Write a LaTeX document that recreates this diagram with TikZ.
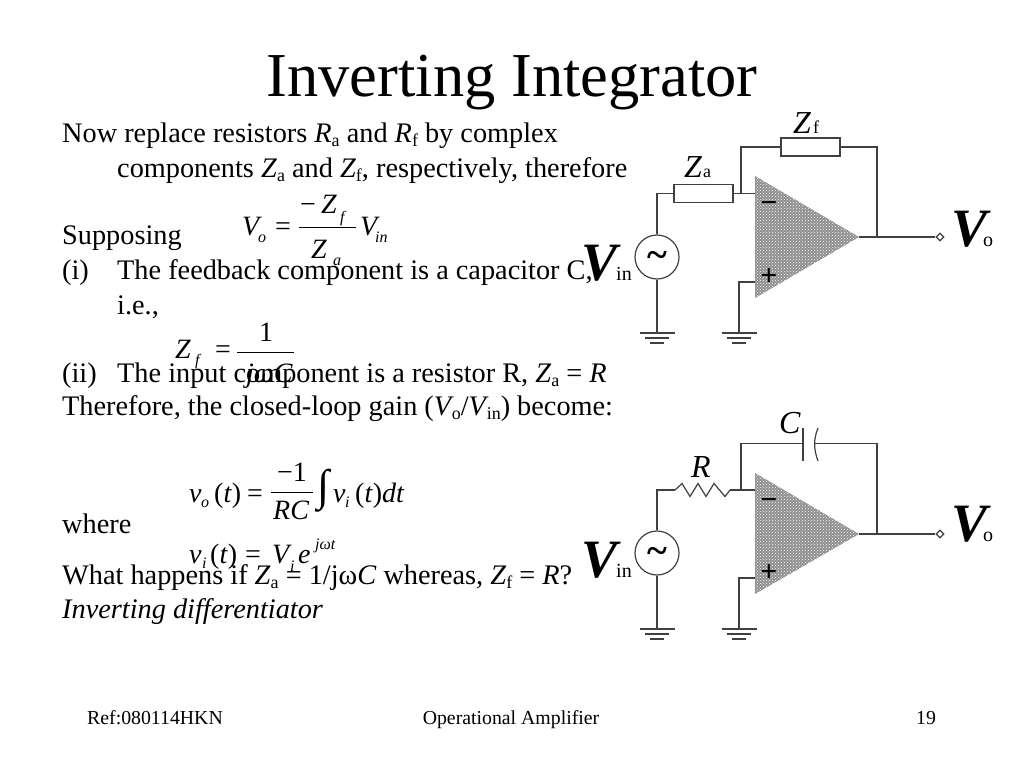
\documentclass[tikz,border=0pt]{standalone}
\usepackage{fontspec}
\usetikzlibrary{patterns,shapes.geometric}
\setmainfont{Liberation Serif}
\newcommand{\fs}[1]{\fontsize{#1}{#1}\selectfont}
\newcommand{\subr}[1]{\raisebox{-4pt}{\fs{18}#1}}
\tikzset{
  x=1pt,y=-1pt,
  wire/.style={line width=1.2pt,draw=black!75},
  bodytext/.style={anchor=base west,inner sep=0pt,font=\fs{28.3}},
  foot/.style={anchor=base,inner sep=0pt,font=\fs{19.8}},
  eq/.style={anchor=base west,inner sep=0pt,font=\fs{28}\itshape},
  eqr/.style={anchor=base west,inner sep=0pt,font=\fs{28}},
  eqs/.style={anchor=base west,inner sep=0pt,font=\fs{16}\itshape},
  bigv/.style={anchor=base west,inner sep=0pt,font=\fs{54}\bfseries\itshape},
  vsub/.style={anchor=base west,inner sep=0pt,font=\fs{20}},
  lbl/.style={anchor=base west,inner sep=0pt,font=\fs{32}\itshape},
  lbls/.style={anchor=base west,inner sep=0pt,font=\fs{18}},
  sign/.style={anchor=center,inner sep=0pt,font=\fs{30}\bfseries},
  imp/.style={wire,rectangle,fill=white,minimum width=59pt,minimum height=18pt,inner sep=0pt},
  src/.style={wire,circle,fill=white,minimum size=44pt,inner sep=0pt,font=\fs{38}\bfseries},
  term/.style={wire,diamond,draw,fill=white,minimum size=8pt,inner sep=0pt},
  bar/.style={line width=1.2pt,draw=black!75}
}
\newcommand{\gnd}[1]{%
  \draw[bar] ([xshift=-17.5pt]#1) -- ([xshift=17.5pt]#1);
  \draw[bar] ([xshift=-12pt,yshift=-5pt]#1) -- ([xshift=12pt,yshift=-5pt]#1);
  \draw[bar,line width=1.6pt] ([xshift=-7pt,yshift=-10pt]#1) -- ([xshift=7pt,yshift=-10pt]#1);}
\newcommand{\opamp}[3]{%
  \fill[gray!88] #1 -- #2 -- #3 -- cycle;
  \fill[pattern=crosshatch dots,pattern color=white] #1 -- #2 -- #3 -- cycle;}
\begin{document}
\begin{tikzpicture}
\useasboundingbox (0,0) rectangle (1024,768);
\fill[white] (0,0) rectangle (1024,768);

% title
\node[anchor=base,inner sep=0pt,font=\fs{62.5}] (title) at (512,96) {Inverting Integrator};

% body
\node[bodytext] (l1) at (62,142) {Now replace resistors \textit{R}\subr{a} and \textit{R}\subr{f} by complex};
\node[bodytext] (l2) at (117,177) {components \textit{Z}\subr{a} and \textit{Z}\subr{f}, respectively, therefore};
\node[bodytext] (l3) at (62,244) {Supposing};
\node[bodytext] (l4a) at (62,279) {(i)};
\node[bodytext] (l4) at (117,279) {The feedback component is a capacitor C,};
\node[bodytext] (l5) at (117,314) {i.e.,};
\node[bodytext] (l6a) at (62,382) {(ii)};
\node[bodytext] (l6) at (117,382) {The input component is a resistor R, \textit{Z}\subr{a} = \textit{R}};
\node[bodytext] (l7) at (62,415) {Therefore, the closed-loop gain (\textit{V}\kern-2pt\subr{o}/\textit{V}\kern-2pt\subr{in}) become:};
\node[bodytext] (l8) at (62,533) {where};
\node[bodytext] (l9) at (62,584) {What happens if \textit{Z}\subr{a} = 1/jω\textit{C} whereas, \textit{Z}\subr{f} = \textit{R}?};
\node[bodytext,font=\fs{28.3}\itshape] (l10) at (62,618) {Inverting differentiator};

% footer
\node[foot] (f1) at (155,724) {Ref:080114HKN};
\node[foot] (f2) at (511,724) {Operational Amplifier};
\node[foot] (f3) at (926,724) {19};

% eq 1
\node[eq] (e1a) at (242,235) {V};
\node[eqs] (e1b) at (258,242) {o};
\node[eqr] (e1c) at (275,235) {=};
\node[eqr] (e1d) at (300,213) {−};
\node[eq] (e1e) at (321,213) {Z};
\node[eqs] (e1f) at (340,222) {f};
\node[eq] (e1g) at (311,258) {Z};
\node[eqs] (e1h) at (333,265) {a};
\node[eq] (e1i) at (360,235) {V};
\node[eqs] (e1j) at (375,242) {in};
\coordinate (e1l) at (299,227); \coordinate (e1r) at (356,227);
\draw[line width=1pt] (e1l) -- (e1r);

% eq 2
\node[eq] (e2a) at (175,358) {Z};
\node[eqs] (e2b) at (195,365) {f};
\node[eqr] (e2c) at (215,358) {=};
\node[eqr] (e2d) at (259,341) {1};
\node[eq] (e2e) at (246,382) {jωC};
\coordinate (e2l) at (237,352); \coordinate (e2r) at (294,352);
\draw[line width=1pt] (e2l) -- (e2r);

% eq 3
\node[eq] (e3a) at (189,502) {v};
\node[eqs] (e3b) at (201,507) {o};
\node[eqr] (e3c) at (214,502) {(\textit{t})};
\node[eqr] (e3d) at (247,502) {=};
\node[eqr] (e3e) at (277,481) {−1};
\node[eq] (e3f) at (273,519) {RC};
\node[anchor=center,inner sep=0pt,font=\fs{44}] (e3g) at (324,491) {∫};
\node[eq] (e3h) at (333,502) {v};
\node[eqs] (e3i) at (345,507) {i};
\node[eqr] (e3j) at (355,502) {(\textit{t})\textit{dt}};
\coordinate (e3l) at (271,492); \coordinate (e3r) at (313,492);
\draw[line width=1pt] (e3l) -- (e3r);

% eq 4
\node[eq] (e4a) at (189,563) {v};
\node[eqs] (e4b) at (202,568) {i};
\node[eqr] (e4c) at (210,563) {(\textit{t})};
\node[eqr] (e4d) at (245,563) {=};
\node[eq] (e4e) at (272,563) {V};
\node[eqs] (e4f) at (290,571) {i};
\node[eq] (e4g) at (298,563) {e};
\node[eqs] (e4h) at (315,549) {jωt};

% ---------- top circuit ----------
\opamp{(755,176)}{(859,237)}{(755,298)}
\node[sign] (am) at (769,207) {−};
\node[sign] (ap) at (769,277) {+};
\coordinate (ainm) at (755,193.5);
\coordinate (ainp) at (755,282);
\coordinate (aout) at (859,237);
\coordinate (fbl) at (741,193.5);
\coordinate (fbr) at (877,237);
\coordinate (g1) at (657,333);
\coordinate (g2) at (739,333);
\node[src] (vs) at (657,257) {\raisebox{-10pt}[0pt][0pt]{\char"7E}};
\node[imp] (za) at (703.5,193.5) {};
\node[imp] (zf) at (810.5,147) {};
\node[term] (vo) at (940,237) {};
\draw[wire] (vs.north) |- (za.west);
\draw[wire] (za.east) -- (ainm);
\draw[wire] (fbl) |- (zf.west);
\draw[wire] (zf.east) -| (fbr);
\draw[wire] (aout) -- (vo.west);
\draw[wire] (vs.south) -- (g1);
\draw[wire] (ainp) -| (g2);
\gnd{g1}\gnd{g2}
\node[lbl] (lza) at (684,177) {Z};
\node[lbls] (lzas) at (703,177) {a};
\node[lbl] (lzf) at (793,133) {Z};
\node[lbls] (lzfs) at (813,133) {f};
\node[bigv] (lvo) at (951,246) {V};
\node[vsub] (lvos) at (983,246) {o};
\node[bigv] (lvi) at (581,280) {V};
\node[vsub] (lvis) at (616,280) {in};

% ---------- bottom circuit ----------
\opamp{(755,473)}{(859,534)}{(755,594)}
\node[sign] (bm) at (769,504) {−};
\node[sign] (bp) at (769,573) {+};
\coordinate (binm) at (755,490);
\coordinate (binp) at (755,578);
\coordinate (bout) at (859,534);
\coordinate (bfl) at (741,490);
\coordinate (bfr) at (877,534);
\coordinate (g3) at (657,629);
\coordinate (g4) at (739,629);
\coordinate (ca) at (803,443.7);
\coordinate (cb) at (815,443.7);
\coordinate (ra) at (675,490);
\coordinate (rb) at (730,490);
\node[src] (bvs) at (657,553) {\raisebox{-10pt}[0pt][0pt]{\char"7E}};
\node[term] (bvo) at (940,534) {};
\draw[wire] (bvs.north) |- (ra);
\draw[wire] (ra) -- (682,483.5) -- (690,496.5) -- (698,483.5) -- (706,496.5) -- (714,483.5) -- (725,496.5) -- (rb);
\draw[wire] (rb) -- (binm);
\draw[wire] (bfl) |- (ca);
\draw[wire] (803,428) -- (803,461);
\draw[wire] (cb) -| (bfr);
\draw[wire] (bout) -- (bvo.west);
\draw[wire] (818,428) .. controls (813.5,439) and (813.5,449) .. (818,461);
\draw[wire] (bvs.south) -- (g3);
\draw[wire] (binp) -| (g4);
\gnd{g3}\gnd{g4}
\node[lbl] (lr) at (691,477) {R};
\node[lbl] (lc) at (779,433) {C};
\node[bigv] (blvo) at (951,541.7) {V};
\node[vsub] (blvos) at (983,541.7) {o};
\node[bigv] (blvi) at (581,577) {V};
\node[vsub] (blvis) at (616,577) {in};
\end{tikzpicture}
\end{document}
